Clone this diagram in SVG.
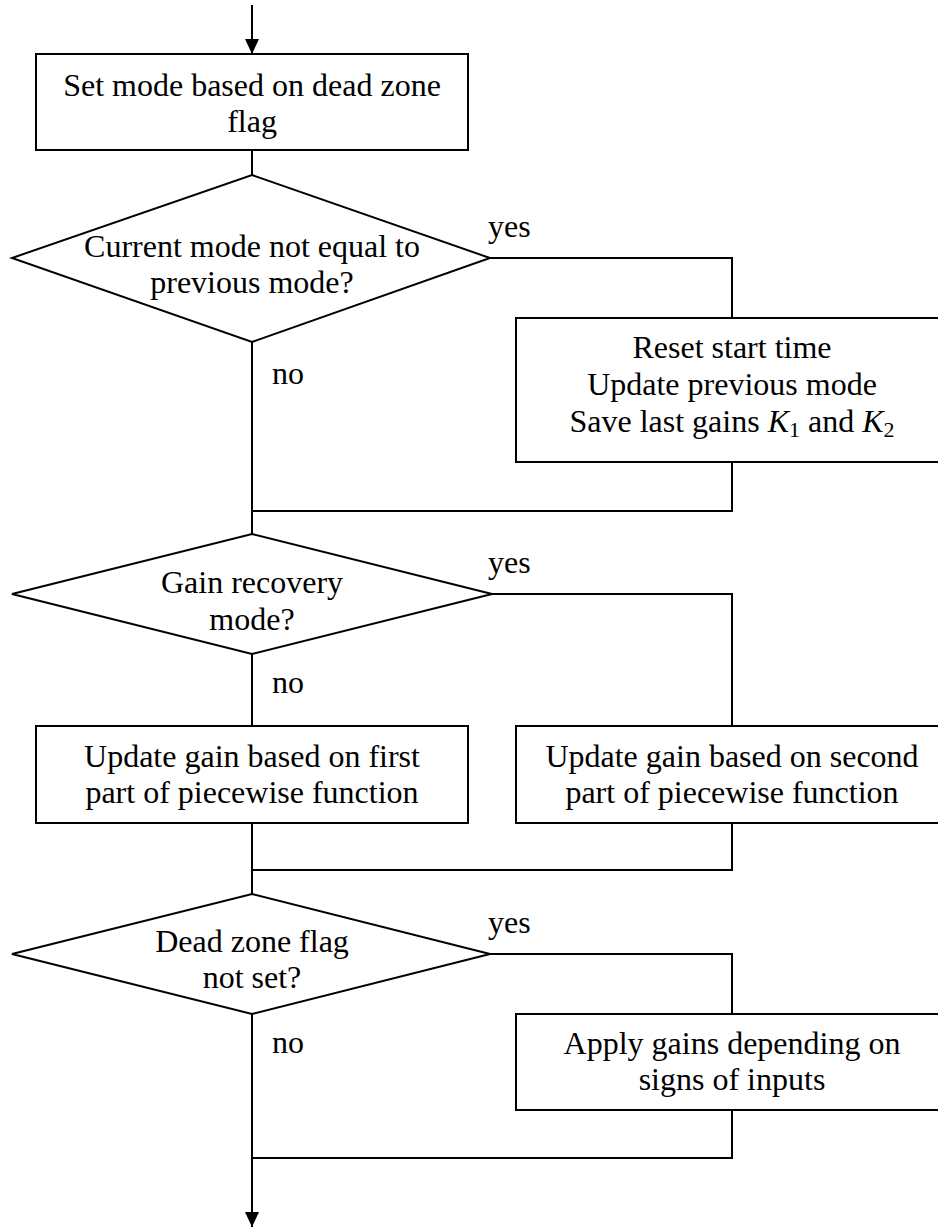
<svg xmlns="http://www.w3.org/2000/svg" width="938" height="1228" viewBox="0 0 938 1228">
<style>
.s{fill:#fff;stroke:#000;stroke-width:2}
.c{fill:none;stroke:#000;stroke-width:2}
text{font-family:"Liberation Serif","Times New Roman",serif;font-size:32px;fill:#000}
.m{text-anchor:middle}
</style>
<defs>
<marker id="ah" markerUnits="userSpaceOnUse" markerWidth="16" markerHeight="16" viewBox="0 0 16 16" refX="15" refY="8" orient="auto">
<path d="M0,1 L15,8 L0,15 Z" fill="#000"/>
</marker>
</defs>
<rect width="938" height="1228" fill="#fff"/>
<g id="connectors">
<path class="c" d="M252,5 V54" marker-end="url(#ah)"/>
<path class="c" d="M252,150 V175"/>
<path class="c" d="M490,258 H732 V318"/>
<path class="c" d="M732,462 V511 H252"/>
<path class="c" d="M252,342 V534"/>
<path class="c" d="M492,594 H732 V726"/>
<path class="c" d="M252,654 V726"/>
<path class="c" d="M252,823 V894"/>
<path class="c" d="M732,823 V870 H252"/>
<path class="c" d="M490,954 H732 V1014"/>
<path class="c" d="M732,1110 V1158 H252"/>
<path class="c" d="M252,1014 V1227" marker-end="url(#ah)"/>
</g>
<g id="n1">
<rect class="s" x="36" y="54" width="432" height="96"/>
<text class="m" x="252" y="96">Set mode based on dead zone</text>
<text class="m" x="252" y="132">flag</text>
</g>
<g id="d1">
<polygon class="s" points="252,175 490,258 252,342 12,258"/>
<text class="m" x="252" y="257">Current mode not equal to</text>
<text class="m" x="252" y="293">previous mode?</text>
<text x="488" y="237">yes</text>
<text x="272" y="384">no</text>
</g>
<g id="n2">
<rect class="s" x="516" y="318" width="432" height="144"/>
<text class="m" x="732" y="358">Reset start time</text>
<text class="m" x="732" y="395">Update previous mode</text>
<text class="m" x="732" y="432">Save last gains <tspan font-style="italic">K</tspan><tspan font-size="22" dy="5">1</tspan><tspan dy="-5"> and </tspan><tspan font-style="italic">K</tspan><tspan font-size="22" dy="5">2</tspan></text>
</g>
<g id="d2">
<polygon class="s" points="252,534 492,594 252,654 12,594"/>
<text class="m" x="252" y="593">Gain recovery</text>
<text class="m" x="252" y="630">mode?</text>
<text x="488" y="573">yes</text>
<text x="272" y="693">no</text>
</g>
<g id="n3">
<rect class="s" x="36" y="726" width="432" height="97"/>
<text class="m" x="252" y="767">Update gain based on first</text>
<text class="m" x="252" y="803">part of piecewise function</text>
</g>
<g id="n4">
<rect class="s" x="516" y="726" width="432" height="97"/>
<text class="m" x="732" y="767">Update gain based on second</text>
<text class="m" x="732" y="803">part of piecewise function</text>
</g>
<g id="d3">
<polygon class="s" points="252,894 490,954 252,1014 12,954"/>
<text class="m" x="252" y="952">Dead zone flag</text>
<text class="m" x="252" y="988">not set?</text>
<text x="488" y="933">yes</text>
<text x="272" y="1053">no</text>
</g>
<g id="n5">
<rect class="s" x="516" y="1014" width="432" height="96"/>
<text class="m" x="732" y="1054">Apply gains depending on</text>
<text class="m" x="732" y="1090">signs of inputs</text>
</g>
</svg>
